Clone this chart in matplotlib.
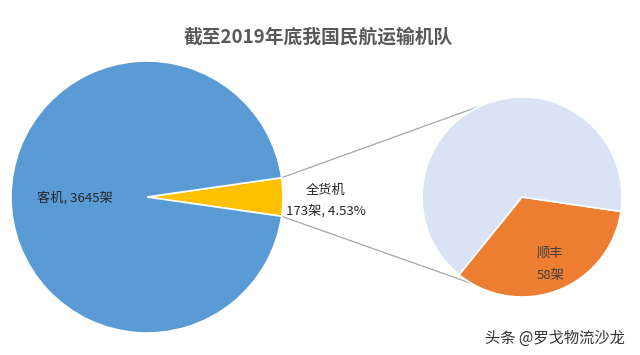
import numpy as np
import matplotlib
matplotlib.use('Agg')
import matplotlib.pyplot as plt

plt.rcParams['font.family'] = ['Noto Sans CJK SC', 'DejaVu Sans']

# 数据
main_labels = ['全货机', '客机']
main_values = [173, 3645]
sub_labels = ['顺丰', '其他']
sub_values = [58, 115]

BLUE = '#5B9BD5'
YELLOW = '#FFC000'
ORANGE = '#ED7D31'
LIGHT = '#DAE3F3'

fig = plt.figure(figsize=(6.4, 3.55), dpi=100)
ax = fig.add_axes([0, 0, 1, 1])

# 主饼图
c1, r1 = (147, 158), 136
share = main_values[0] / sum(main_values) * 360
ax.pie(main_values, colors=[YELLOW, BLUE], center=c1, radius=r1,
       startangle=-share / 2, counterclock=True,
       wedgeprops=dict(edgecolor='white', linewidth=1.2))

# 子饼图
c2, r2 = (522, 158), 100
ax.pie(sub_values, colors=[ORANGE, LIGHT], center=c2, radius=r2,
       startangle=-129, counterclock=True,
       wedgeprops=dict(edgecolor='white', linewidth=1.2))

# pie() 会改坐标范围，放到后面设置
ax.set_xlim(0, 640)
ax.set_ylim(0, 355)
ax.set_aspect('equal')
ax.axis('off')

# 连接线
a = np.deg2rad(share / 2)
p_top = (c1[0] + r1 * np.cos(a), c1[1] + r1 * np.sin(a))
p_bot = (c1[0] + r1 * np.cos(a), c1[1] - r1 * np.sin(a))
q_top = (c2[0] + r2 * np.cos(np.deg2rad(114)), c2[1] + r2 * np.sin(np.deg2rad(114)))
q_bot = (c2[0] + r2 * np.cos(np.deg2rad(-120)), c2[1] + r2 * np.sin(np.deg2rad(-120)))
for p, q in ((p_top, q_top), (p_bot, q_bot)):
    ax.plot([p[0], q[0]], [p[1], q[1]], color='#A6A6A6', lw=0.9, zorder=0)

# 标签
ax.text(75, 157, f'客机, {main_values[1]}架', fontsize=9.5, color='#262626',
        ha='center', va='center')
ax.text(326, 165, '全货机', fontsize=9.5, color='#262626',
        ha='center', va='center')
ax.text(326, 144, f'{main_values[0]}架, {main_values[0] / sum(main_values) * 100:.2f}%',
        fontsize=9.5, color='#262626', ha='center', va='center')
ax.text(550, 102, sub_labels[0], fontsize=9.5, color='#404040',
        ha='center', va='center')
ax.text(551, 80, f'{sub_values[0]}架', fontsize=9.5, color='#404040',
        ha='center', va='center')

ax.text(318, 318, '截至2019年底我国民航运输机队', fontsize=13.5,
        fontweight='bold', color='#595959', ha='center', va='center')

ax.text(555, 17, '头条 @罗戈物流沙龙', fontsize=11, color='#333333',
        ha='center', va='center')

fig.savefig('out.png', dpi=100, facecolor='white')
